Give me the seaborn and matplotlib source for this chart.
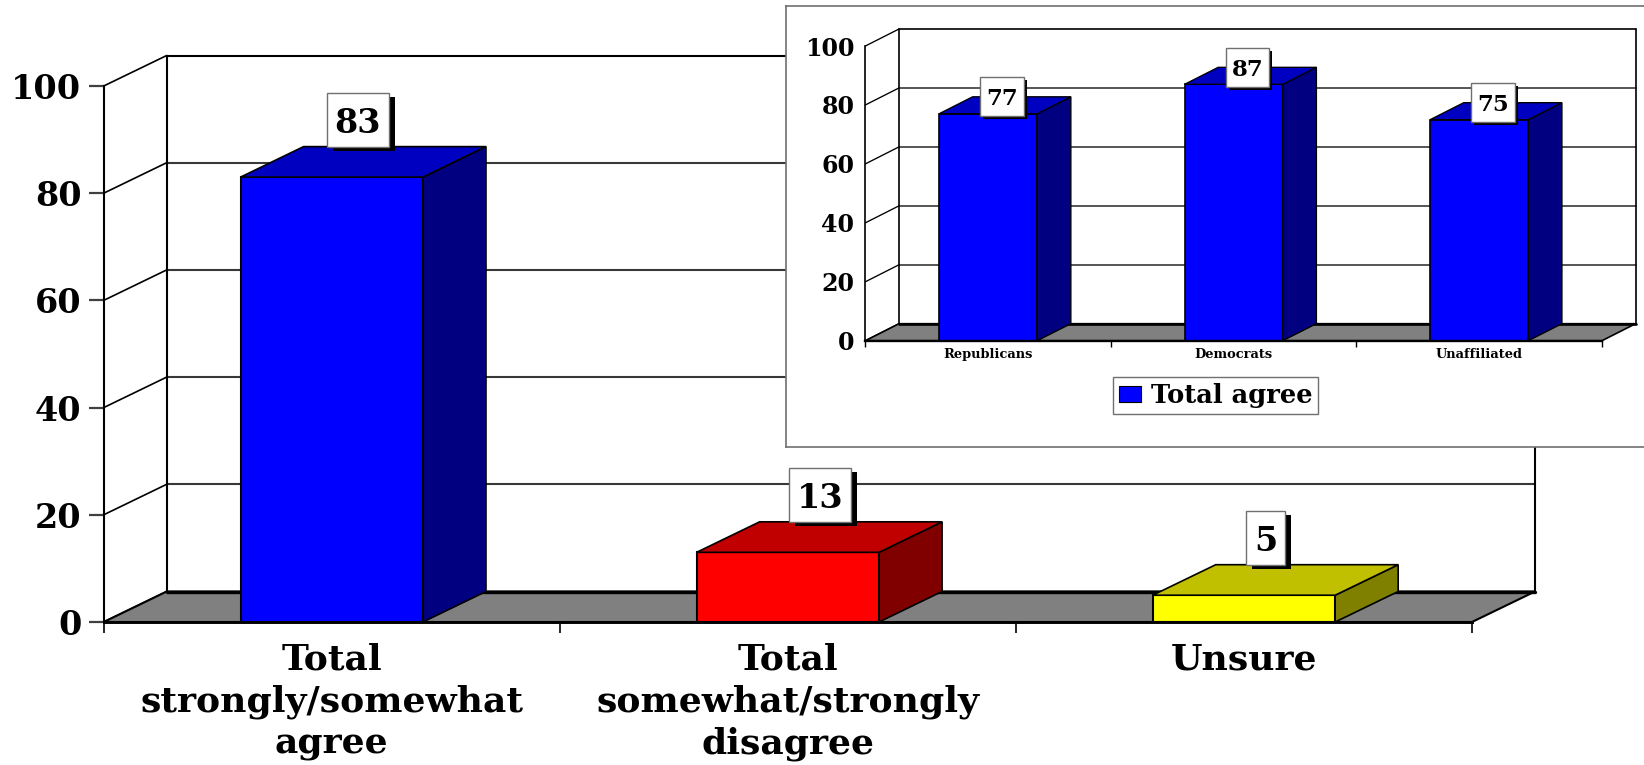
import numpy as np
import seaborn as sns
import matplotlib.pyplot as plt
from matplotlib.patches import Patch, Polygon, Rectangle

W, H = 1644, 765

main_cats = ["Total\nstrongly/somewhat\nagree", "Total\nsomewhat/strongly\ndisagree", "Unsure"]
main_vals = [83, 13, 5]
main_front = ["#0000FF", "#FF0000", "#FFFF00"]
main_side = ["#000080", "#800000", "#808000"]
main_top = ["#0000C0", "#C00000", "#C0C000"]

inset_cats = ["Republicans", "Democrats", "Unaffiliated"]
inset_vals = [77, 87, 75]
inset_front = ["#0000FF", "#0000FF", "#0000FF"]
inset_side = ["#000080", "#000080", "#000080"]
inset_top = ["#0000C0", "#0000C0", "#0000C0"]
inset_legend = "Total agree"

y_ticks = [0, 20, 40, 60, 80, 100]

sns.set_theme(style="white")
plt.rcParams["font.family"] = ["DejaVu Serif"]
plt.rcParams["font.weight"] = "bold"
plt.rcParams["text.color"] = "black"
plt.rcParams["xtick.labelcolor"] = "black"
plt.rcParams["ytick.labelcolor"] = "black"


def px_axes(fig, left, right, top, bottom):
    # axes from pixel edges, y measured from the top of the image
    return fig.add_axes([left / W, 1 - bottom / H, (right - left) / W, (bottom - top) / H])


def draw_chart(ax, cats, vals, front, side, top, depth, box_w, box_h, box_shift, box_anchor, shadow, lab_size, lw):
    sns.barplot(x=cats, y=vals, hue=cats, palette=front, saturation=1, width=0.4,
                edgecolor="black", linewidth=lw, legend=False, ax=ax)
    bars = sorted(ax.patches, key=lambda p: p.get_x())
    ax.set_xlim(-0.5, 2.5)
    ax.set_ylim(0, 100)
    ax.patch.set_visible(False)

    bb = ax.get_position()
    ux = (bb.width * W) / 3      # pixels per category
    uy = (bb.height * H) / 100   # pixels per percent
    ddx, ddy = depth[0] / ux, depth[1] / uy

    # floor and walls
    ax.add_patch(Polygon([(-0.5, 0), (2.5, 0), (2.5 + ddx, ddy), (-0.5 + ddx, ddy)], closed=True,
                         fc="#808080", ec="black", lw=lw, clip_on=False, zorder=0.5))
    ax.plot([-0.5 + ddx, 2.5 + ddx], [ddy, ddy], color="black", lw=lw * 1.6, clip_on=False, zorder=0.6)
    for t in y_ticks:
        c = "#383838" if 0 < t < 100 else "black"
        ax.plot([-0.5, -0.5 + ddx], [t, t + ddy], color="black", lw=lw * 0.8, clip_on=False, zorder=0.4)
        ax.plot([-0.5 + ddx, 2.5 + ddx], [t + ddy, t + ddy], color=c, lw=lw, clip_on=False, zorder=0.4)
    for x in [-0.5 + ddx, 2.5 + ddx]:
        ax.plot([x, x], [ddy, 100 + ddy], color="black", lw=lw, clip_on=False, zorder=0.4)

    # 3d sides, tops and the value boxes
    for i, p in enumerate(bars):
        x0, w, v = p.get_x(), p.get_width(), p.get_height()
        p.set_zorder(2)
        p.set_clip_on(False)
        x1 = x0 + w
        ax.add_patch(Polygon([(x1, 0), (x1, v), (x1 + ddx, v + ddy), (x1 + ddx, ddy)], closed=True,
                             fc=side[i], ec="black", lw=lw * 0.8, clip_on=False, zorder=2))
        ax.add_patch(Polygon([(x0, v), (x1, v), (x1 + ddx, v + ddy), (x0 + ddx, v + ddy)], closed=True,
                             fc=top[i], ec="black", lw=lw * 0.8, clip_on=False, zorder=2))

        bw = box_w[i] / ux
        bh = box_h / uy
        cx = x0 + w / 2 + box_shift[i] / ux
        by = v + ddy - box_anchor * bh
        ax.add_patch(Rectangle((cx - bw / 2 + shadow[0] / ux, by - shadow[1] / uy), bw, bh,
                               fc="black", ec="none", clip_on=False, zorder=3))
        ax.add_patch(Rectangle((cx - bw / 2, by), bw, bh, fc="white", ec="#707070", lw=1,
                               clip_on=False, zorder=4))
        ax.text(cx, by + bh / 2, str(vals[i]), ha="center", va="center_baseline",
                fontsize=lab_size, color="black", zorder=5)

    for s in ["top", "right"]:
        ax.spines[s].set_visible(False)
    for s in ["left", "bottom"]:
        ax.spines[s].set_color("black")
        ax.spines[s].set_linewidth(lw)
    ax.spines["bottom"].set_linewidth(lw * 1.4)
    ax.set_yticks(y_ticks)
    ax.set_xticks([-0.5, 0.5, 1.5, 2.5], labels=["", "", "", ""])
    ax.set_xticks([0, 1, 2], labels=cats, minor=True)
    ax.set_xlabel("")
    ax.set_ylabel("")


fig = plt.figure(figsize=(W / 100, H / 100), dpi=100, facecolor="white")

# main chart
ax = px_axes(fig, 103.7, 1472, 86, 622)
draw_chart(ax, main_cats, main_vals, main_front, main_side, main_top, depth=(63, 30.5),
           box_w=[62, 62, 39], box_h=54, box_shift=[26, 32, 22], box_anchor=0,
           shadow=(6, 4), lab_size=24, lw=1.5)
ax.tick_params(axis="y", length=11, width=1.6, color="#404040", pad=5, labelsize=24, left=True)
ax.tick_params(axis="x", which="major", length=8, width=1.2, color="black", bottom=True)
# labels are tight against the bottom edge, the descenders have to fit
ax.tick_params(axis="x", which="minor", length=0, pad=15, labelsize=26)
for lab in ax.get_xticklabels(minor=True):
    lab.set_linespacing(1.28)

# inset panel sits over the main chart and runs off the right edge
panel = px_axes(fig, 786, 1660, 6.3, 447)
panel.set_facecolor("white")
panel.set_xticks([])
panel.set_yticks([])
panel.set_zorder(5)
for s in panel.spines.values():
    s.set_color("#707070")
    s.set_linewidth(1.2)

ax2 = px_axes(fig, 865.4, 1602, 46, 340.7)
ax2.set_zorder(6)
draw_chart(ax2, inset_cats, inset_vals, inset_front, inset_side, inset_top, depth=(33.6, 17),
           box_w=[43.5, 43.5, 43.5], box_h=39, box_shift=[14, 14, 14], box_anchor=0.5,
           shadow=(3, 3), lab_size=16.5, lw=1.2)
ax2.tick_params(axis="y", length=0, pad=8, labelsize=17)
ax2.tick_params(axis="x", which="major", length=4, width=1, color="black", bottom=True)
ax2.tick_params(axis="x", which="minor", length=0, pad=5.5, labelsize=9.4)
ax2.legend(handles=[Patch(fc="#0000FF", ec="black", lw=0.8, label=inset_legend)],
           loc="center", bbox_to_anchor=(1215.5 / W, 1 - 395.5 / H), bbox_transform=fig.transFigure,
           frameon=True, fancybox=False, framealpha=1, edgecolor="#707070", facecolor="white",
           fontsize=18.5, handlelength=0.86, handleheight=0.58, handletextpad=0.4, borderpad=0.22,
           borderaxespad=0)

fig.savefig("out.png", dpi=100)
